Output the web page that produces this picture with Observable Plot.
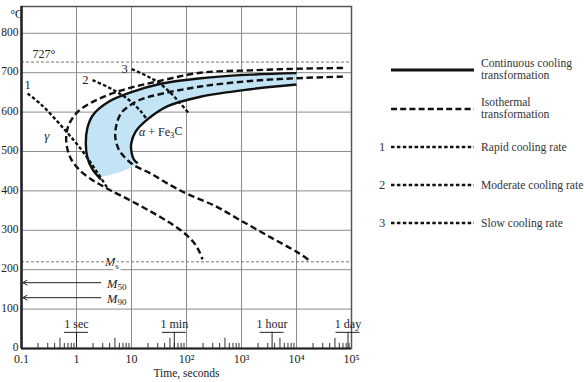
<!DOCTYPE html>
<html><head><meta charset="utf-8">
<script src="https://cdn.jsdelivr.net/npm/d3@7"></script>
<script src="https://cdn.jsdelivr.net/npm/@observablehq/plot@0.6"></script>
<style>
body{margin:0;background:#fff;}
#wrap{position:relative;width:584px;height:382px;font-family:"Liberation Serif","Times New Roman",serif;}
#wrap svg{position:absolute;left:0;top:0;}
</style></head><body><div id="wrap"></div>
<script>
// ---- axis ticks ----
const yTicks = [0, 100, 200, 300, 400, 500, 600, 700, 800];
const gridTemps = [100, 200, 300, 400, 500, 600, 700, 800];
const xTicks = [0.1, 1, 10, 100, 1000, 10000, 100000];
const xTickLabels = ["0.1", "1", "10", "10²", "10³", "10⁴", "10⁵"];
const gridTimes = [1, 10, 100, 1000, 10000];

// ---- isothermal (TTT) curves, dashed ----
const isoStartTime = [70000, 10000, 1470, 181, 30, 9.7, 4.2, 1.98, 1.06, 0.741, 0.654, 0.668, 0.789, 1.10, 1.82, 2.77, 4.2, 9.7, 34, 78.5, 130, 167, 195];
const isoStartTemp = [712, 710, 706, 700, 678, 662, 646, 626, 601, 571, 543, 513, 482, 455, 430, 415, 401, 375, 333, 300, 272, 249, 226];
const isoFinishTime = [70000, 10000, 1467, 181, 34, 14.7, 8.93, 6.39, 5.29, 5.08, 5.87, 7.24, 10.55, 22.4, 51.7, 105, 340, 966, 3384, 10471, 18040];
const isoFinishTemp = [690, 686, 679, 665, 646, 632, 615, 596, 566, 536, 505, 488, 467, 444, 414, 392, 361, 325, 282, 244, 221];

// ---- continuous cooling (CCT) curves, solid ----
const cctStartTime = [10000, 1467, 181, 34, 9.7, 3.71, 1.98, 1.574, 1.477, 1.574, 1.94, 2.77];
const cctStartTemp = [699, 695, 686, 672, 650, 625, 592, 559, 521, 485, 455, 429];
const cctFinishTime = [10000, 1467, 181, 45.6, 19.8, 11.96, 9.91, 10.0, 11.0, 13.0];
const cctFinishTemp = [670, 658, 639, 615, 582, 551, 521, 498, 480, 470];
const fillCornerTime = [2.5];
const fillCornerTemp = [437];

// ---- cooling curves ----
const cool1Time = [0.129, 0.225, 0.57, 1.3, 2.3, 3.75];
const cool1Temp = [647, 620, 560, 500, 450, 405];
const cool2Time = [1.956, 3.66, 6.39, 9.7, 14.7, 19.8];
const cool2Temp = [681, 664, 645, 627, 602, 579];
const cool3Time = [10.1, 18.2, 30, 47.6, 72.2, 110];
const cool3Temp = [709, 693, 676, 653, 627, 597];
const coolLabels = ["1", "2", "3"];
const coolLabelTime = [0.129, 1.45, 7.5];
const coolLabelTemp = [668, 681, 709];

// ---- reference temperatures ----
const eutectoidTemp = 727;
const msTemp = 220;
const mArrowNames = ["M{50}", "M{90}"];
const mArrowTemps = [167, 129];

// ---- time brackets ----
const bracketLabels = ["1 sec", "1 min", "1 hour", "1 day"];
const bracketTimes = [1, 60, 3600, 86400];

// ---- legend ----
const legendKeys = ["", "", "1", "2", "3"];
const legendLabels = [["Continuous cooling", "transformation"], ["Isothermal", "transformation"], ["Rapid cooling rate"], ["Moderate cooling rate"], ["Slow cooling rate"]];

const pts = (ts, Ts) => ts.map((t, i) => ({t, T: Ts[i]}));
const isoStart = pts(isoStartTime, isoStartTemp);
const isoFinish = pts(isoFinishTime, isoFinishTemp);
const cctStart = pts(cctStartTime, cctStartTemp);
const cctFinish = pts(cctFinishTime, cctFinishTemp);
const fillPoly = [...cctStart.slice(0, 11), ...pts(fillCornerTime, fillCornerTemp), ...cctFinish.slice().reverse()];
const cooling = [pts(cool1Time, cool1Temp), pts(cool2Time, cool2Temp), pts(cool3Time, cool3Temp)];
const minor = [];
for (const dec of [0.1, 1, 10, 100, 1000, 10000]) for (let m = 2; m <= 9; m++) minor.push({t: dec * m, len: m === 5 ? 26 : 13});
const brackets = bracketTimes.map((t, i) => ({t, label: bracketLabels[i]}));
const mArrows = mArrowTemps.map((T, i) => ({T, name: mArrowNames[i]}));
const lineStyle = {x: "t", y: "T", stroke: "#111", strokeWidth: 2.4, curve: "catmull-rom", strokeLinecap: "butt"};
const dashed = {...lineStyle, strokeDasharray: "6.5,3.5"};
const dotted = {...lineStyle, strokeDasharray: "3.5,2.2"};

const plot = Plot.plot({
  width: 584, height: 382,
  marginLeft: 21, marginRight: 233, marginTop: 6, marginBottom: 34,
  x: {type: "log", domain: [0.1, 1e5]},
  y: {domain: [0, 868]},
  style: {fontFamily: '"Liberation Serif", "Times New Roman", serif', fontSize: "11.5px", color: "#222", background: "transparent", overflow: "visible"},
  marks: [
    Plot.ruleY(gridTemps, {stroke: "#8c8c8c", strokeWidth: 1}),
    Plot.ruleX(gridTimes, {stroke: "#8c8c8c", strokeWidth: 1}),
    Plot.line(fillPoly, {x: "t", y: "T", fill: "#c2e4f5", stroke: "none", curve: "catmull-rom"}),
    Plot.ruleY([eutectoidTemp, msTemp], {stroke: "#777", strokeWidth: 1, strokeDasharray: "3,2"}),
    Plot.frame({stroke: "#555", strokeWidth: 1.5}),
    Plot.ruleX([0.1], {stroke: "#222", strokeWidth: 2.5}),
    Plot.ruleY([0], {stroke: "#222", strokeWidth: 2}),
    Plot.ruleX(minor, {x: "t", y1: 0, y2: "len", stroke: "#333", strokeWidth: 1}),
    Plot.ruleX(brackets, {x: "t", y1: 0, y2: 41, stroke: "#222", strokeWidth: 1}),
    Plot.ruleY(brackets, {y: 41, x1: d => d.t / 1.65, x2: d => d.t * 1.65, stroke: "#222", strokeWidth: 1}),
    Plot.text(brackets, {x: "t", y: 41, text: "label", dy: -8, fontSize: 12}),
    Plot.line(isoStart, dashed),
    Plot.line(isoFinish, dashed),
    Plot.line(cctStart, lineStyle),
    Plot.line(cctFinish, lineStyle),
    ...cooling.map(c => Plot.line(c, dotted)),
    Plot.text(coolLabels, {x: (d, i) => coolLabelTime[i], y: (d, i) => coolLabelTemp[i], text: d => d, fontSize: 12.5}),
    Plot.text(["727°"], {x: 0.255, y: eutectoidTemp, text: d => d, dy: -8, fontSize: 12}),
    Plot.text(["γ"], {x: 0.29, y: 540, text: d => d, fontStyle: "italic", fontSize: 13}),
    Plot.text(["[α] + Fe{3}C"], {x: 34, y: 550, text: d => d, fontSize: 12}),
    Plot.text(["[M]{s}"], {x: 4.4, y: msTemp, text: d => d, fontSize: 12.5, stroke: "white", strokeWidth: 5, fill: "#222"}),
    Plot.arrow(mArrows, {x1: 2.77, x2: 0.106, y1: "T", y2: "T", stroke: "#222", strokeWidth: 1, headLength: 7, bend: 0}),
    Plot.text(mArrows, {x: 3.6, y: "T", text: d => "[M]" + d.name.slice(1), textAnchor: "start", fontSize: 12.5, dy: 1}),
    Plot.axisY(yTicks, {tickSize: 0, tickPadding: 3, label: null, fontSize: 11.5, dy: -1}),
    Plot.axisX(xTicks, {tickSize: 0, tickPadding: 6, label: null, fontSize: 12, tickFormat: d => xTickLabels[xTicks.indexOf(d)]}),
    Plot.text(["°C"], {frameAnchor: "top-left", dx: -11, dy: 3, text: d => d, fontSize: 11.5}),
    Plot.text(["Time, seconds"], {frameAnchor: "bottom", dy: 28, text: d => d, fontSize: 11.5})
  ]
});

// rich text: {sub} and [italic]
d3.select(plot).selectAll("text").each(function() {
  const s = this.textContent;
  if (!/[\{\[]/.test(s)) return;
  const el = d3.select(this);
  el.text(null);
  const parts = s.split(/(\{[^}]*\}|\[[^\]]*\])/);
  let shifted = false;
  for (const p of parts) {
    if (!p) continue;
    if (p.startsWith("{")) {
      el.append("tspan").attr("dy", "0.3em").attr("font-size", "0.72em").text(p.slice(1, -1));
      shifted = true;
    } else {
      const sp = el.append("tspan");
      if (shifted) { sp.attr("dy", "-0.3em"); shifted = false; }
      if (p.startsWith("[")) sp.attr("font-style", "italic").text(p.slice(1, -1));
      else sp.text(p);
    }
  }
});

const wrap = document.getElementById("wrap");
wrap.appendChild(plot);

// legend
const lg = d3.select(wrap).append("svg").attr("width", 584).attr("height", 382)
  .style("font-family", '"Liberation Serif", "Times New Roman", serif').style("font-size", "11.6px");
const rowY = [70, 109, 147, 185, 223];
const rowDash = [null, "6,3.2", "3.5,2.4", "3.5,2.4", "3.5,2.4"];
const rowWidth = [3, 2.5, 2.5, 2.5, 2.5];
legendLabels.forEach((lines, i) => {
  const y = rowY[i];
  const l = lg.append("line").attr("x1", 391).attr("x2", 474).attr("y1", y).attr("y2", y)
    .attr("stroke", "#111").attr("stroke-width", rowWidth[i]);
  if (rowDash[i]) l.attr("stroke-dasharray", rowDash[i]);
  if (legendKeys[i]) lg.append("text").attr("x", 382).attr("y", y + 4).attr("text-anchor", "middle").attr("fill", "#333").attr("font-size", "12.5px").text(legendKeys[i]);
  const y0 = lines.length === 2 ? y - 3 : y + 3.5;
  lines.forEach((t, j) => lg.append("text").attr("x", 481).attr("y", y0 + j * 11.5).attr("fill", "#333").text(t));
});
</script></body></html>
